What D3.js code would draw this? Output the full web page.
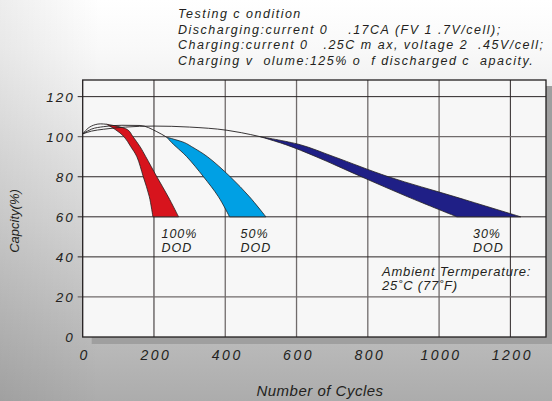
<!DOCTYPE html>
<html>
<head>
<meta charset="utf-8">
<script src="https://cdn.jsdelivr.net/npm/d3@7"></script>
<style>
  body { margin: 0; padding: 0; }
  svg { display: block; }
  text { font-family: "Liberation Sans", Arial, sans-serif; font-style: italic; fill: #231f20; }
</style>
</head>
<body>
<svg width="552" height="401"></svg>
<script>
// tick labels
const xTicks = [0, 200, 400, 600, 800, 1000, 1200];
const yTicks = [0, 20, 40, 60, 80, 100, 120];

// thin lines before the fall-off: [cycles, capacity %]
const line100 = [[0, 101.4], [15, 104.2], [35, 106], [50, 106.4], [67, 106.2]];
const line50 = [[0, 101.4], [25, 103.8], [58, 105], [110, 105.7], [161, 105.6], [208, 102.5], [236, 99.7]];
const line30 = [[0, 101.4], [25, 102.8], [58, 103.7], [120, 104.8], [200, 105.3], [300, 104.8], [405, 103.2], [445, 102], [498, 100]];

// fall-off bands: [capacity %, lower cycles, upper cycles]
const band100 = [[106.2, 67, 67], [103.5, 92, 126], [100, 116, 141], [95, 135, 161], [90, 152, 177], [80, 170, 208], [70, 187, 240], [60, 197, 269]];
const band50 = [[99.7, 236, 236], [97, 250, 286], [95, 262, 306], [90, 292, 350], [80, 339, 414], [70, 381, 468], [60, 412, 514]];
const band30 = [[100, 498, 498], [96, 570, 610], [90, 655, 705], [80, 782, 858], [70, 912, 1045], [60, 1050, 1229]];

// DOD label positions in cycles
const dodLabels = [["100%", 221], ["50%", 443], ["30%", 1095]];

const titleLines = [
    "Testing c ondition",
    "Discharging:current 0    .17CA (FV 1 .7V/cell);",
    "Charging:current 0   .25C m ax, voltage 2  .45V/cell;",
    "Charging v  olume:125% o  f discharged c  apacity."
];

const width = 552, height = 401;
const plot = { left: 82.7, right: 546, top: 80, bottom: 337 };

const svg = d3.select("svg");

// background
const defs = svg.append("defs");
const bg = defs.append("linearGradient").attr("id", "bg")
    .attr("x1", 0).attr("y1", 0).attr("x2", 0).attr("y2", 1);
bg.append("stop").attr("offset", "0%").attr("stop-color", "#ffffff");
bg.append("stop").attr("offset", "12%").attr("stop-color", "#f9f9f9");
bg.append("stop").attr("offset", "55%").attr("stop-color", "#d6d6d6");
bg.append("stop").attr("offset", "100%").attr("stop-color", "#acacac");
const side = defs.append("linearGradient").attr("id", "side")
    .attr("x1", 0).attr("y1", 0).attr("x2", 1).attr("y2", 0);
side.append("stop").attr("offset", "0%").attr("stop-color", "#000").attr("stop-opacity", 0.07);
side.append("stop").attr("offset", "18%").attr("stop-color", "#000").attr("stop-opacity", 0);

svg.append("rect").attr("width", width).attr("height", height).attr("fill", "url(#bg)");
svg.append("rect").attr("width", width).attr("height", height).attr("fill", "url(#side)");

const x = d3.scaleLinear().domain([0, 1300]).range([plot.left, plot.right]);
const y = d3.scaleLinear().domain([0, 128.3]).range([plot.bottom, plot.top]);

// shadow + plot area
svg.append("rect")
    .attr("x", plot.left + 9).attr("y", plot.top + 6)
    .attr("width", plot.right - plot.left).attr("height", plot.bottom - plot.top + 1)
    .attr("fill", "#9f9f9f");
svg.append("rect")
    .attr("x", plot.left).attr("y", plot.top)
    .attr("width", plot.right - plot.left).attr("height", plot.bottom - plot.top)
    .attr("fill", "#f7f7f7");

// grid
const grayX = [400, 600, 800, 1000];
const grayY = [100, 20];
svg.append("g").selectAll("line")
    .data(xTicks.slice(1))
    .enter()
    .append("line")
    .attr("x1", d => x(d)).attr("x2", d => x(d))
    .attr("y1", plot.top).attr("y2", plot.bottom)
    .attr("stroke", d => grayX.includes(d) ? "#706b6b" : "#2b2526")
    .attr("stroke-width", d => grayX.includes(d) ? 1.3 : 1);

svg.append("g").selectAll("line")
    .data(yTicks.slice(1))
    .enter()
    .append("line")
    .attr("x1", plot.left - 5).attr("x2", plot.right)
    .attr("y1", d => y(d)).attr("y2", d => y(d))
    .attr("stroke", d => grayY.includes(d) ? "#706b6b" : "#2b2526")
    .attr("stroke-width", d => grayY.includes(d) ? 1.3 : 1);

// bands
const band = d3.area()
    .y(d => y(d[0]))
    .x0(d => x(d[1]))
    .x1(d => x(d[2]))
    .curve(d3.curveCatmullRom.alpha(0.5));

svg.append("path").datum(band100).attr("d", band)
    .attr("fill", "#d7141d").attr("stroke", "#231f20").attr("stroke-width", 0.8);
svg.append("path").datum(band50).attr("d", band)
    .attr("fill", "#00a0e4").attr("stroke", "#231f20").attr("stroke-width", 0.8);
svg.append("path").datum(band30).attr("d", band)
    .attr("fill", "#1f1f86").attr("stroke", "#231f20").attr("stroke-width", 0.8);

// thin lines
const thin = d3.line()
    .x(d => x(d[0]))
    .y(d => y(d[1]))
    .curve(d3.curveMonotoneX);

svg.append("g").selectAll("path")
    .data([line100, line50, line30])
    .enter()
    .append("path")
    .attr("d", thin)
    .attr("fill", "none")
    .attr("stroke", "#231f20")
    .attr("stroke-width", 0.9);

// border
svg.append("rect")
    .attr("x", plot.left).attr("y", plot.top)
    .attr("width", plot.right - plot.left).attr("height", plot.bottom - plot.top)
    .attr("fill", "none").attr("stroke", "#231f20").attr("stroke-width", 1.3);

// tick labels
svg.append("g").selectAll("text")
    .data(yTicks)
    .enter()
    .append("text")
    .attr("x", plot.left - 8)
    .attr("y", d => y(d) + 5)
    .attr("text-anchor", "end")
    .style("font-size", "13.5px")
    .style("letter-spacing", "2px")
    .text(d => d);

svg.append("g").selectAll("text")
    .data(xTicks)
    .enter()
    .append("text")
    .attr("x", d => x(d) + 2)
    .attr("y", plot.bottom + 23)
    .attr("text-anchor", "middle")
    .style("font-size", "14px")
    .style("letter-spacing", "2.5px")
    .text(d => d);

// axis titles
svg.append("text")
    .attr("transform", "translate(19,221) rotate(-90)")
    .attr("text-anchor", "middle")
    .style("font-size", "13px")
    .text("Capcity(%)");

svg.append("text")
    .attr("x", 320)
    .attr("y", 396)
    .attr("text-anchor", "middle")
    .style("font-size", "15px")
    .style("letter-spacing", "0.5px")
    .text("Number of Cycles");

// DOD labels
dodLabels.forEach(([label, c]) => {
    const t = svg.append("text")
        .attr("x", x(c))
        .attr("y", 238)
        .style("font-size", "12.5px")
        .style("letter-spacing", "1px");
    t.append("tspan").text(label);
    t.append("tspan").attr("x", x(c)).attr("dy", 13.5).text("DOD");
});

// ambient temperature note
svg.append("text")
    .attr("x", 382)
    .attr("y", 275.5)
    .style("font-size", "13px")
    .style("letter-spacing", "0.8px")
    .text("Ambient Termperature:");
svg.append("text")
    .attr("x", 382)
    .attr("y", 289.5)
    .style("font-size", "13px")
    .style("letter-spacing", "0.8px")
    .text("25˚C (77˚F)");

// test conditions
svg.append("g").selectAll("text")
    .data(titleLines)
    .enter()
    .append("text")
    .attr("x", 178)
    .attr("y", (d, i) => 18 + i * 15.5)
    .attr("xml:space", "preserve")
    .style("white-space", "pre")
    .style("font-size", "12.5px")
    .style("letter-spacing", "1.5px")
    .text(d => d);
</script>
</body>
</html>
